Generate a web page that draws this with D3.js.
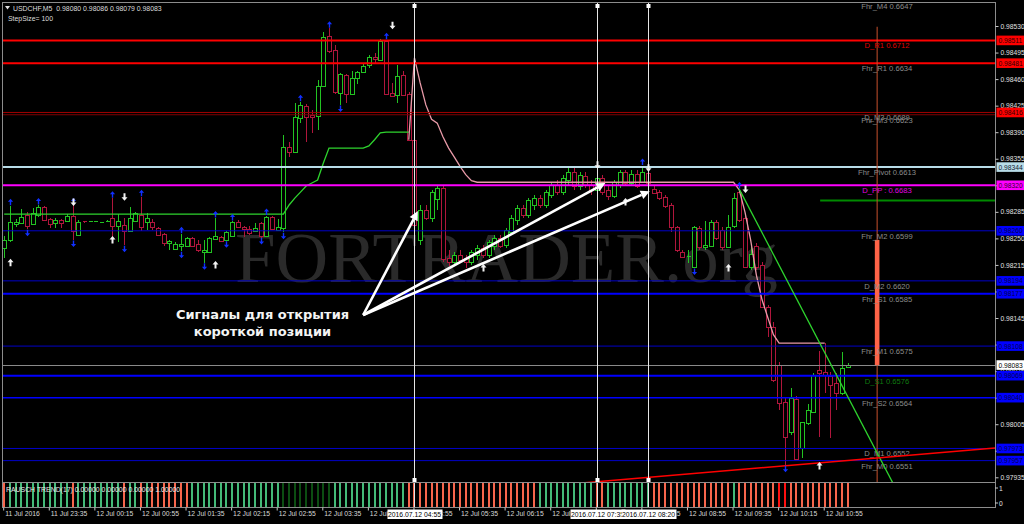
<!DOCTYPE html>
<html><head><meta charset="utf-8">
<script src="https://cdn.jsdelivr.net/npm/d3@7/dist/d3.min.js"></script>
<style>
html,body{margin:0;padding:0;background:#000;overflow:hidden}
svg{display:block}
</style></head><body>
<svg id="chart" width="1024" height="524" font-family="'Liberation Sans',Arial,sans-serif"></svg>
<script>
// ---------------- DATA ----------------
const symbolHeader = "USDCHF,M5  0.98080 0.98086 0.98079 0.98083";
const stepText = "StepSize= 100";
const indicatorText = "RAUSCH TREND(17) 0.00000 0.00000 0.00000 1.00000";
const watermark = "FORTRADER.org";

const opens = [
0.98237,0.98248,0.98269,0.98270,0.98281,0.98270,0.98280,0.98291,0.98276,0.98270,
0.98274,0.98273,0.98280,0.98255,0.98273,0.98272,0.98272,0.98270,0.98272,0.98277,
0.98266,0.98268,0.98260,0.98273,0.98281,0.98272,0.98272,0.98264,0.98256,0.98245,
0.98236,0.98241,0.98241,0.98251,0.98243,0.98233,0.98232,0.98249,0.98252,0.98248,
0.98253,0.98272,0.98265,0.98262,0.98260,0.98270,0.98253,0.98278,0.98261,0.98264,
0.98371,0.98364,0.98409,0.98425,0.98413,0.98411,0.98451,0.98517,0.98498,0.98442,
0.98465,0.98440,0.98461,0.98469,0.98479,0.98489,0.98485,0.98510,0.98442,0.98439,
0.98465,0.98440,0.98380,0.98248,0.98287,0.98277,0.98301,0.98316,0.98224,0.98219,
0.98228,0.98224,0.98219,0.98228,0.98237,0.98228,0.98241,0.98251,0.98241,0.98258,
0.98274,0.98290,0.98281,0.98294,0.98303,0.98294,0.98307,0.98320,0.98311,0.98327,
0.98337,0.98319,0.98332,0.98320,0.98314,0.98330,0.98314,0.98306,0.98320,0.98337,
0.98323,0.98335,0.98324,0.98336,0.98315,0.98311,0.98305,0.98294,0.98265,0.98232,
0.98226,0.98212,0.98264,0.98239,0.98241,0.98272,0.98261,0.98239,0.98266,0.98311,
0.98277,0.98212,0.98240,0.98215,0.98160,0.98133,0.98083,0.98034,0.97995,0.98038,
0.97974,0.98007,0.98021,0.98077,0.98074,0.98069,0.98059,0.98046,0.98080];
const highs = [
0.98253,0.98293,0.98276,0.98289,0.98285,0.98290,0.98294,0.98293,0.98277,0.98277,
0.98276,0.98282,0.98294,0.98274,0.98273,0.98273,0.98273,0.98272,0.98274,0.98303,
0.98282,0.98277,0.98291,0.98285,0.98305,0.98284,0.98276,0.98265,0.98257,0.98248,
0.98245,0.98256,0.98252,0.98252,0.98248,0.98248,0.98252,0.98277,0.98253,0.98260,
0.98273,0.98274,0.98266,0.98266,0.98270,0.98272,0.98280,0.98280,0.98276,0.98386,
0.98377,0.98429,0.98430,0.98427,0.98419,0.98459,0.98522,0.98527,0.98505,0.98468,
0.98467,0.98471,0.98471,0.98481,0.98492,0.98494,0.98513,0.98512,0.98455,0.98479,
0.98471,0.98443,0.98386,0.98294,0.98294,0.98314,0.98320,0.98319,0.98235,0.98232,
0.98235,0.98228,0.98235,0.98241,0.98241,0.98248,0.98254,0.98254,0.98264,0.98281,
0.98294,0.98294,0.98303,0.98307,0.98307,0.98314,0.98324,0.98327,0.98334,0.98344,
0.98343,0.98337,0.98337,0.98327,0.98334,0.98334,0.98320,0.98327,0.98340,0.98340,
0.98340,0.98340,0.98346,0.98340,0.98319,0.98314,0.98307,0.98297,0.98266,0.98235,
0.98235,0.98266,0.98266,0.98273,0.98274,0.98274,0.98265,0.98281,0.98310,0.98315,
0.98280,0.98239,0.98244,0.98219,0.98162,0.98140,0.98087,0.98041,0.98053,0.98042,
0.98008,0.98032,0.98073,0.98102,0.98112,0.98074,0.98073,0.98100,0.98086];
const lows = [
0.98224,0.98245,0.98265,0.98269,0.98262,0.98268,0.98278,0.98273,0.98264,0.98264,
0.98264,0.98272,0.98248,0.98253,0.98270,0.98272,0.98271,0.98270,0.98271,0.98251,
0.98245,0.98241,0.98258,0.98272,0.98260,0.98261,0.98261,0.98253,0.98240,0.98235,
0.98235,0.98233,0.98240,0.98240,0.98232,0.98218,0.98231,0.98248,0.98245,0.98247,
0.98252,0.98264,0.98252,0.98255,0.98258,0.98251,0.98252,0.98261,0.98260,0.98258,
0.98357,0.98363,0.98402,0.98377,0.98389,0.98393,0.98450,0.98494,0.98440,0.98426,
0.98429,0.98439,0.98454,0.98468,0.98475,0.98481,0.98484,0.98439,0.98436,0.98429,
0.98438,0.98378,0.98254,0.98241,0.98274,0.98272,0.98287,0.98219,0.98214,0.98215,
0.98219,0.98211,0.98215,0.98222,0.98224,0.98224,0.98235,0.98237,0.98237,0.98254,
0.98268,0.98277,0.98277,0.98287,0.98290,0.98290,0.98303,0.98307,0.98307,0.98320,
0.98314,0.98314,0.98316,0.98307,0.98311,0.98307,0.98301,0.98303,0.98316,0.98320,
0.98319,0.98316,0.98323,0.98320,0.98309,0.98301,0.98290,0.98258,0.98232,0.98224,
0.98218,0.98211,0.98235,0.98235,0.98239,0.98248,0.98235,0.98237,0.98264,0.98272,
0.98211,0.98208,0.98208,0.98158,0.98120,0.98061,0.98024,0.97951,0.97991,0.97958,
0.97961,0.98004,0.98020,0.97988,0.98046,0.97987,0.98024,0.98044,0.98079];
const closes = [
0.98248,0.98272,0.98272,0.98278,0.98266,0.98284,0.98291,0.98274,0.98270,0.98274,
0.98270,0.98280,0.98260,0.98272,0.98272,0.98273,0.98273,0.98271,0.98273,0.98266,
0.98273,0.98260,0.98277,0.98284,0.98265,0.98277,0.98265,0.98255,0.98244,0.98247,
0.98243,0.98243,0.98251,0.98241,0.98235,0.98235,0.98251,0.98253,0.98247,0.98258,
0.98272,0.98265,0.98262,0.98257,0.98264,0.98253,0.98278,0.98262,0.98265,0.98371,
0.98364,0.98410,0.98426,0.98410,0.98410,0.98451,0.98516,0.98497,0.98442,0.98467,
0.98440,0.98461,0.98469,0.98477,0.98489,0.98487,0.98510,0.98440,0.98438,0.98464,
0.98439,0.98380,0.98268,0.98287,0.98277,0.98311,0.98316,0.98222,0.98219,0.98228,
0.98222,0.98219,0.98232,0.98237,0.98228,0.98245,0.98251,0.98241,0.98261,0.98277,
0.98290,0.98281,0.98301,0.98303,0.98294,0.98311,0.98320,0.98311,0.98330,0.98337,
0.98319,0.98334,0.98320,0.98314,0.98330,0.98311,0.98306,0.98324,0.98337,0.98323,
0.98335,0.98319,0.98337,0.98323,0.98310,0.98303,0.98293,0.98265,0.98235,0.98226,
0.98227,0.98265,0.98239,0.98241,0.98272,0.98251,0.98239,0.98265,0.98303,0.98274,
0.98212,0.98229,0.98212,0.98160,0.98133,0.98063,0.98033,0.97988,0.98040,0.97959,
0.98008,0.98024,0.98070,0.98073,0.98070,0.98057,0.98046,0.98079,0.98083];

// green trailing line, bars 0..71
const greenLine = [
0.98282,0.98282,0.98282,0.98282,0.98282,0.98282,0.98282,0.98282,0.98282,0.98282,
0.98282,0.98282,0.98282,0.98282,0.98282,0.98282,0.98282,0.98282,0.98282,0.98282,
0.98282,0.98282,0.98282,0.98282,0.98282,0.98282,0.98282,0.98282,0.98282,0.98282,
0.98282,0.98282,0.98282,0.98282,0.98282,0.98282,0.98282,0.98282,0.98282,0.98282,
0.98282,0.98282,0.98282,0.98282,0.98282,0.98282,0.98282,0.98282,0.98282,0.98282,
0.98294,0.98303,0.98311,0.98319,0.98323,0.98327,0.98349,0.98369,0.98369,0.98369,
0.98369,0.98369,0.98369,0.98369,0.98372,0.98380,0.98389,0.98390,0.98390,0.98390,
0.98390,0.98390];
// pink line, bars 71..148
const pinkStart = 71;
const pinkLine = [
0.98380,0.98488,0.98455,0.98426,0.98407,0.98402,0.98384,0.98369,0.98357,0.98345,
0.98334,0.98326,0.98324,0.98324,0.98324,0.98324,0.98324,0.98324,0.98324,0.98324,
0.98324,0.98324,0.98324,0.98324,0.98324,0.98324,0.98324,0.98324,0.98324,0.98324,
0.98324,0.98324,0.98324,0.98324,0.98324,0.98324,0.98324,0.98324,0.98324,0.98324,
0.98324,0.98324,0.98324,0.98324,0.98324,0.98324,0.98324,0.98324,0.98324,0.98324,
0.98324,0.98324,0.98324,0.98324,0.98324,0.98324,0.98324,0.98324,0.98314,0.98285,
0.98248,0.98202,0.98169,0.98146,0.98123,0.98112,0.98112,0.98112,0.98112,0.98112,
0.98112,0.98112,0.98112,0.98112];

// RAUSCH TREND histogram colour codes per bar (g green, d dark green, r salmon red, R red)
const trendCodes =
"rgggggggggggrggggggggrggrgrrrrrrrgggggggggggggggg" +
"ddddddddd" + "ggggggggggggg" + "rrrrrrrrrrrrrrrrrrrrrrr" +
"gggggggggg" + "rr" + "gggggggg" + "rrrrrrrrrrrrrr" + "g" + "rrrrrrr" + "RR" + "rrrrrrrrrrr";

// fractal arrows
const blueUpBars = [1,6,12,19,24,31,37,40,46,52,57,67,112,129];
const blueDownBars = [4,12,21,31,35,39,45,49,59,121,137];
// signal arrows
const whiteUpBars = [1,19,37,84,109,127,143];
const whiteUpPrices = [0.98218,0.98248,0.98215,0.98211,0.98298,0.98211,0.97950];
const whiteDownBars = [12,21,68,104,113,130];
const whiteDownPrices = [0.98298,0.98305,0.98531,0.98347,0.98343,0.98315];

// horizontal levels
const levelNames  = ["D_R1","Fhr_R1","D_M3","Fhr_M3","Fhr_Pivot","D_PP","Fhr_M2","D_M2","Fhr_S1","Fhr_M1","D_S1","Fhr_S2","D_M1","Fhr_M0","Fhr_M4"];
const levelPrices = [0.98511,0.98481,0.98416,0.98413,0.98344,0.98320,0.98260,0.98194,0.98177,0.98108,0.98069,0.98040,0.97973,0.97957,0.98563];
const levelTexts  = ["D_R1 0.6712","Fhr_R1 0.6634","D_M3 0.6689","Fhr_M3 0.6623","Fhr_Pivot 0.6613","D_PP : 0.6683","Fhr_M2 0.6599","D_M2 0.6620","Fhr_S1 0.6585","Fhr_M1 0.6575","D_S1 0.6576","Fhr_S2 0.6564","D_M1 0.6552","Fhr_M0 0.6551","Fhr_M4 0.6647"];
const bidPrice = 0.98083;

// right-axis price boxes
const boxPrices = [0.98511,0.98481,0.98416,0.98344,0.98320,0.98260,0.98194,0.98177,0.98108,0.98083,0.98069,0.98040,0.97973,0.97957];
const boxKinds  = ["red","red","red","lblue","mag","blue","blue","blue","blue","white","blue","blue","blue","blue"];
const priceTicks = [0.98530,0.98495,0.98460,0.98425,0.98390,0.98355,0.98320,0.98285,0.98250,0.98215,0.98180,0.98145,0.98110,0.98075,0.98040,0.98005,0.97970,0.97935];

// time axis
const timeTickBars = [0,8,16,24,32,40,48,56,64,72,80,88,96,104,112,120,128,136,144];
const timeTickLabels = ["11 Jul 2016","11 Jul 23:35","12 Jul 00:15","12 Jul 00:55","12 Jul 01:35","12 Jul 02:15","12 Jul 02:55","12 Jul 03:35","12 Jul 04:15","12 Jul 04:55","12 Jul 05:35","12 Jul 06:15","12 Jul 06:55","12 Jul 07:35","12 Jul 08:15","12 Jul 08:55","12 Jul 09:35","12 Jul 10:15","12 Jul 10:55"];
const vlineBars = [72,104,113];
const vlineLabels = ["2016.07.12 04:55","2016.07.12 07:35","2016.07.12 08:20"];

// trend lines (bar, price)
const greenTrend = [[129,0.98315],[153.7,0.97960]];
const redTrend = [[111.6,0.97934],[155.5,0.97962]];
// projected range (bar, top, bottom)
const rangeBar = 153.2, rangeTop = 0.98248, rangeBottom = 0.98083, rangeLineTop = 0.98529;
const shortLevelBar = 143.2, shortLevelPrice = 0.98300;

// annotation
const noteLines = ["Сигналы для открытия","короткой позиции"];
const noteApex = [63, 0.98149];
const noteTips = [[72.6,0.98286],[105.5,0.98323],[113.3,0.98312]];

// ---------------- DRAW ----------------
const svg = d3.select("#chart");
const SANS = "'Liberation Sans',Arial,sans-serif";
const PL=3, PR=995, PT=3, PB=482, IT=483, IB=507;
const x = d3.scaleLinear().domain([0,148]).range([4.2,847.5]);
const y = d3.scaleLinear().domain([0.97935,0.98530]).range([477.3,26]);
const cx = i => Math.round(x(i)) + 0.5;

svg.append("rect").attr("width",1024).attr("height",524).attr("fill","#000");
const defs = svg.append("defs");
defs.append("clipPath").attr("id","mainClip").append("rect")
  .attr("x",PL).attr("y",PT).attr("width",PR-PL).attr("height",PB-PT);
const g = svg.append("g").attr("clip-path","url(#mainClip)");

// watermark
g.append("text").text(watermark)
  .attr("x",235).attr("y",282)
  .style("font-family","'Liberation Serif','DejaVu Serif',serif")
  .attr("font-size",72).attr("fill","#2a2a2a")
  .attr("textLength",543).attr("lengthAdjust","spacingAndGlyphs");

// candles
const bars = d3.range(opens.length).map(i=>({i,o:opens[i],h:highs[i],l:lows[i],c:closes[i]}));
const GREEN="#22c322", RED="#b0163c";
const cg = g.append("g").attr("shape-rendering","crispEdges");
bars.forEach(b=>{
  const col = b.c>=b.o ? GREEN : RED;
  const xx = cx(b.i);
  cg.append("line").attr("x1",xx).attr("x2",xx).attr("y1",y(b.h)).attr("y2",y(b.l)).attr("stroke",col);
  const top = y(Math.max(b.o,b.c)), bot = y(Math.min(b.o,b.c));
  if (bot-top < 1.5) {
    cg.append("line").attr("x1",xx-2).attr("x2",xx+2).attr("y1",Math.round(top)+0.5).attr("y2",Math.round(top)+0.5).attr("stroke",col);
  } else {
    cg.append("rect").attr("x",xx-2).attr("y",Math.round(top)+0.5).attr("width",4).attr("height",Math.round(bot-top))
      .attr("fill","#000").attr("stroke",col);
  }
});

// indicator lines
const lineGen = d3.line().x(d=>x(d[0])).y(d=>y(d[1]));
g.append("path").attr("d",lineGen(greenLine.map((v,i)=>[i,v]))).attr("fill","none").attr("stroke","#2ed42e").attr("stroke-width",1.3);
g.append("path").attr("d",lineGen(pinkLine.map((v,i)=>[pinkStart+i,v]))).attr("fill","none").attr("stroke","#e89aa8").attr("stroke-width",1.3);

// horizontal levels
const lvlStyle = {
  D_R1:["#ff0000",2,"#e00000"], Fhr_R1:["#ff0000",2,"#8c8c8c"], D_M3:["#a00000",1,"#8c8c8c"], Fhr_M3:["#800000",1,"#8c8c8c"],
  Fhr_Pivot:["#b8dce8",2,"#8c8c8c"], D_PP:["#ff00ff",2,"#e000e0"], Fhr_M2:["#0000c8",1,"#8c8c8c"], D_M2:["#0000c8",1,"#8c8c8c"],
  Fhr_S1:["#0000ff",2,"#8c8c8c"], Fhr_M1:["#0000c8",1,"#8c8c8c"], D_S1:["#0000ff",2,"#0f7a0f"], Fhr_S2:["#0000ff",1.5,"#8c8c8c"],
  D_M1:["#0000c8",1,"#8c8c8c"], Fhr_M0:["#0000c8",1,"#8c8c8c"], Fhr_M4:["#808080",1,"#8c8c8c"]
};
levelNames.forEach((n,k)=>{
  const st = lvlStyle[n], yy = y(levelPrices[k]);
  g.append("line").attr("x1",PL).attr("x2",PR).attr("y1",yy).attr("y2",yy).attr("stroke",st[0]).attr("stroke-width",st[1]);
});
g.append("line").attr("x1",PL).attr("x2",PR).attr("y1",Math.round(y(bidPrice))+0.5).attr("y2",Math.round(y(bidPrice))+0.5).attr("stroke","#8a8a8a");

// short green level
g.append("line").attr("x1",x(shortLevelBar)).attr("x2",PR).attr("y1",y(shortLevelPrice)).attr("y2",y(shortLevelPrice)).attr("stroke","#008a00").attr("stroke-width",2);

// projected range
g.append("line").attr("x1",x(rangeBar)).attr("x2",x(rangeBar)).attr("y1",y(rangeLineTop)).attr("y2",PB).attr("stroke","#c8502d").attr("stroke-width",1);
g.append("rect").attr("x",x(rangeBar)-2.3).attr("width",4.6).attr("y",y(rangeTop)).attr("height",y(rangeBottom)-y(rangeTop)).attr("fill","#ff6347");

// level labels
levelNames.forEach((n,k)=>{
  const st = lvlStyle[n], yy = y(levelPrices[k]);
  g.append("text").text(levelTexts[k]).attr("x",887).attr("y",yy+8).attr("text-anchor","middle")
   .attr("font-size",7.6).attr("fill",st[2]);
});

// trend lines (extended)
function extend(p, b0, b1){
  const s=(p[1][1]-p[0][1])/(p[1][0]-p[0][0]);
  return [[b0,p[0][1]+s*(b0-p[0][0])],[b1,p[0][1]+s*(b1-p[0][0])]];
}
g.append("path").attr("d",lineGen(extend(greenTrend,129,160))).attr("stroke","#2ed42e").attr("stroke-width",1.3).attr("fill","none");
g.append("path").attr("d",lineGen(extend(redTrend,100,180))).attr("stroke","#ff0000").attr("stroke-width",1.5).attr("fill","none");

// vertical lines
vlineBars.forEach(b=>{
  const xx = cx(b);
  g.append("line").attr("x1",xx).attr("x2",xx).attr("y1",PT).attr("y2",PB).attr("stroke","#e6e6e6").attr("shape-rendering","crispEdges");
  g.append("rect").attr("x",xx-2).attr("y",PT+1).attr("width",4).attr("height",4).attr("fill","#fff");
  g.append("rect").attr("x",xx-2).attr("y",PB-4).attr("width",4).attr("height",4).attr("fill","#fff");
});

// arrows
function arrowPath(xx, yt, dir, hw, hh, sw, sh){
  const d = dir;
  return `M${xx},${yt} L${xx+hw},${yt+d*hh} L${xx+sw},${yt+d*hh} L${xx+sw},${yt+d*(hh+sh)} L${xx-sw},${yt+d*(hh+sh)} L${xx-sw},${yt+d*hh} L${xx-hw},${yt+d*hh} Z`;
}
blueUpBars.forEach(b=>{ g.append("path").attr("d",arrowPath(cx(b), y(highs[b])-7, 1, 2.6, 3, 0.7, 3.5)).attr("fill","#1030ff"); });
blueDownBars.forEach(b=>{ g.append("path").attr("d",arrowPath(cx(b), y(lows[b])+7, -1, 2.6, 3, 0.7, 3.5)).attr("fill","#1030ff"); });
whiteUpBars.forEach((b,k)=>{ g.append("path").attr("d",arrowPath(cx(b), y(whiteUpPrices[k])-4, 1, 3, 3.5, 1, 4)).attr("fill","#f2f2f2"); });
whiteDownBars.forEach((b,k)=>{ g.append("path").attr("d",arrowPath(cx(b), y(whiteDownPrices[k])+4, -1, 3, 3.5, 1, 4)).attr("fill","#f2f2f2"); });

// annotation
const ax = x(noteApex[0]), ay = y(noteApex[1]);
noteTips.forEach(t=>{
  const tx=x(t[0]), ty=y(t[1]);
  const ang=Math.atan2(ty-ay,tx-ax), L=9, W=4.5;
  const bx=tx-L*Math.cos(ang), by=ty-L*Math.sin(ang);
  g.append("line").attr("x1",ax).attr("y1",ay).attr("x2",bx).attr("y2",by).attr("stroke","#fff").attr("stroke-width",2.6);
  g.append("path").attr("d",`M${tx},${ty} L${bx+W*Math.sin(ang)},${by-W*Math.cos(ang)} L${bx-W*Math.sin(ang)},${by+W*Math.cos(ang)} Z`).attr("fill","#fff");
});
noteLines.forEach((t,k)=>{
  g.append("text").text(t).attr("x",262.5).attr("y",319+k*16.5).attr("text-anchor","middle")
   .style("font-family","'DejaVu Sans',Verdana,sans-serif").attr("font-weight","bold").attr("font-size",13).attr("fill","#f4f4f4");
});

// header
svg.append("path").attr("d","M5,6 L10,6 L7.5,9.5 Z").attr("fill","#e0e0e0");
svg.append("text").text(symbolHeader).attr("x",13).attr("y",11).attr("font-size",6.9).attr("fill","#dcdcdc").style("white-space","pre");
svg.append("text").text(stepText).attr("x",8).attr("y",21).attr("font-size",6.9).attr("fill","#dcdcdc");

// indicator pane
const tcol = {g:"#44ba78", d:"#0c4e12", r:"#f7664c", R:"#ff1010"};
const ig = svg.append("g").attr("shape-rendering","crispEdges");
trendCodes.split("").forEach((c,i)=>{
  ig.append("rect").attr("x",Math.round(x(i))-1).attr("y",IT).attr("width",2).attr("height",IB-IT).attr("fill",tcol[c]);
});
svg.append("text").text(indicatorText).attr("x",6).attr("y",491.5).attr("font-size",6.9).attr("fill","#e8e8e8");

// frame
const fr = svg.append("g").attr("stroke","#8c8c8c").attr("shape-rendering","crispEdges");
fr.append("line").attr("x1",2.5).attr("x2",2.5).attr("y1",2).attr("y2",508);
fr.append("line").attr("x1",2).attr("x2",PR+0.5).attr("y1",2.5).attr("y2",2.5);
fr.append("line").attr("x1",PR+0.5).attr("x2",PR+0.5).attr("y1",2).attr("y2",508);
fr.append("line").attr("x1",2).attr("x2",PR+0.5).attr("y1",482.5).attr("y2",482.5);
fr.append("line").attr("x1",2).attr("x2",PR+0.5).attr("y1",507.5).attr("y2",507.5);

// price axis
const yAxis = d3.axisRight(y).tickValues(priceTicks).tickFormat(d3.format(".5f")).tickSize(3).tickPadding(2);
const ya = svg.append("g").attr("transform",`translate(${PR+0.5},0)`).call(yAxis);
ya.attr("font-family",SANS);
ya.select(".domain").remove();
ya.selectAll("line").attr("stroke","#c8c8c8");
ya.selectAll("text").attr("fill","#e0e0e0").attr("font-size",6.7);

// price boxes
const boxStyle = {red:["#ff0000","#300000"], lblue:["#b8dce8","#102030"], mag:["#ff00ff","#300030"], blue:["#0000ff","#000050"], white:["#ffffff","#000000"]};
boxPrices.forEach((p,k)=>{
  const st=boxStyle[boxKinds[k]], yy=y(p);
  svg.append("rect").attr("x",PR+1.5).attr("y",yy-4.8).attr("width",1024-PR-1.5).attr("height",9.6).attr("fill",st[0]);
  svg.append("text").text(d3.format(".5f")(p)).attr("x",PR+3.5).attr("y",yy+2.5).attr("font-size",6.7).attr("fill",st[1]);
});

// indicator axis
[[1,488],[0,503]].forEach(v=>{
  svg.append("text").text(v[0]).attr("x",PR+4).attr("y",v[1]+2.5).attr("font-size",6.7).attr("fill","#e0e0e0");
  svg.append("line").attr("x1",PR).attr("x2",PR+3).attr("y1",v[1]).attr("y2",v[1]).attr("stroke","#c8c8c8");
});

// time axis
const xAxis = d3.axisBottom(x).tickValues(timeTickBars).tickFormat((d,k)=>timeTickLabels[k]).tickSize(3).tickPadding(1);
const xa = svg.append("g").attr("transform",`translate(-1,${IB+0.5})`).call(xAxis);
xa.attr("font-family",SANS);
xa.select(".domain").remove();
xa.selectAll("line").attr("stroke","#c8c8c8");
xa.selectAll("text").attr("fill","#d8d8d8").attr("font-size",6.8).attr("text-anchor","start").attr("dx",1.5);

vlineBars.forEach((b,k)=>{
  const xx=cx(b);
  svg.append("rect").attr("x",xx-27).attr("y",509.5).attr("width",55).attr("height",9.5).attr("fill","#fff");
  svg.append("text").text(vlineLabels[k]).attr("x",xx).attr("y",517).attr("text-anchor","middle").attr("font-size",6.8).attr("fill","#000");
  svg.append("line").attr("x1",xx).attr("x2",xx).attr("y1",IT).attr("y2",IB).attr("stroke","#e6e6e6");
});
</script>
</body></html>
